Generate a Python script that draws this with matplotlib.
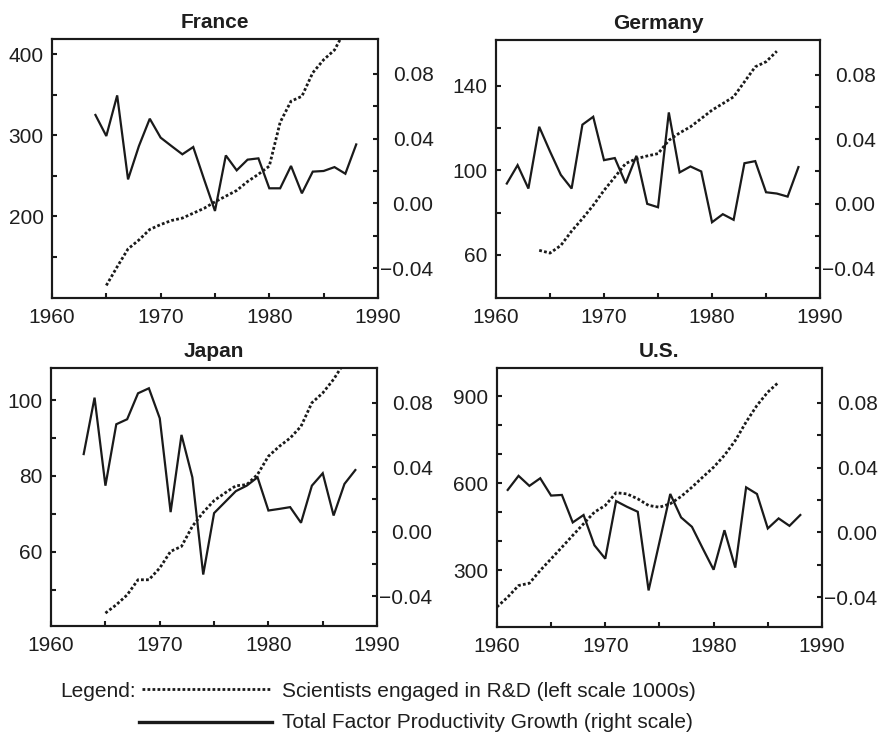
import matplotlib
matplotlib.use('Agg')
import numpy as np
import matplotlib.pyplot as plt
from matplotlib.lines import Line2D

plt.rcParams['font.family'] = ['Liberation Sans', 'DejaVu Sans']
plt.rcParams['font.size'] = 15

INK = '#1a1a1a'

# --- data ---
fr_tfp_years = np.arange(1964, 1989)
fr_tfp = [0.0546, 0.0416, 0.0667, 0.0148, 0.0354, 0.0523, 0.0406, 0.0354, 0.0303,
          0.0348, 0.0148, -0.0047, 0.0296, 0.0204, 0.027, 0.0278, 0.0093, 0.0093,
          0.0231, 0.0062, 0.0196, 0.02, 0.0224, 0.0183, 0.0364]
fr_sci_years = np.arange(1965, 1988)
fr_sci = [115, 138, 160, 171, 184, 190, 195, 198, 204, 210, 218, 225, 232, 243,
          252, 262, 316, 342, 348, 377, 393, 405, 430]

de_tfp_years = np.arange(1961, 1989)
de_tfp = [0.0125, 0.0239, 0.0094, 0.0477, 0.0324, 0.0179, 0.0094, 0.049, 0.0539,
          0.027, 0.0283, 0.0127, 0.0297, -0.0001, -0.0022, 0.0566, 0.0194, 0.0231,
          0.02, -0.0115, -0.0065, -0.01, 0.0251, 0.0264, 0.0071, 0.0063, 0.0044, 0.0227]
de_sci_years = np.arange(1964, 1987)
de_sci = [62.1, 60.8, 64.4, 71.2, 77.1, 83.4, 90.5, 96.8, 103.2, 105.5, 106.8, 107.9,
          114.2, 117.7, 120.6, 124.5, 128.5, 131.6, 134.8, 141.9, 149.0, 151.4, 156.4]

jp_tfp_years = np.arange(1963, 1989)
jp_tfp = [0.0481, 0.0831, 0.0285, 0.0666, 0.0697, 0.0858, 0.0889, 0.0703, 0.0121,
          0.06, 0.0337, -0.0266, 0.0115, 0.0183, 0.0251, 0.0285, 0.0337, 0.0131,
          0.0141, 0.0152, 0.0055, 0.0285, 0.0362, 0.01, 0.0296, 0.0382]
jp_sci_years = np.arange(1965, 1988)
jp_sci = [43.8, 46.0, 48.6, 52.6, 52.6, 55.7, 60.1, 61.4, 66.7, 70.4, 73.5, 75.5,
          77.4, 77.7, 80.4, 85.2, 87.8, 90.0, 93.1, 99.3, 101.9, 105.5, 110.0]

us_tfp_years = np.arange(1961, 1989)
us_tfp = [0.0262, 0.0349, 0.0287, 0.0334, 0.0227, 0.0231, 0.0061, 0.0107, -0.008,
          -0.0163, 0.0193, 0.0158, 0.0127, -0.0359, -0.0061, 0.0237, 0.0092, 0.0034,
          -0.01, -0.0231, 0.0013, -0.0218, 0.0278, 0.0237, 0.0024, 0.0086, 0.004, 0.0107]
us_sci_years = np.arange(1960, 1987)
us_sci = [174, 208, 248, 256, 300, 340, 380, 421, 461, 501, 524, 568, 564, 547,
          524, 518, 530, 555, 587, 622, 656, 697, 748, 812, 869, 915, 949]

panels = [
    # title, axes rect (fig fractions), left ylim, left major ticks, left minor ticks
    ('France', [0.059, 0.5934, 0.370, 0.3533], (99.5, 418.5), [200, 300, 400],
     [150, 250, 350], fr_sci_years, fr_sci, fr_tfp_years, fr_tfp),
    ('Germany', [0.563, 0.5934, 0.3678, 0.352], (39.5, 161.7), [60, 100, 140],
     [80, 120], de_sci_years, de_sci, de_tfp_years, de_tfp),
    ('Japan', [0.058, 0.146, 0.370, 0.352], (40.4, 108.5), [60, 80, 100],
     [50, 70, 90], jp_sci_years, jp_sci, jp_tfp_years, jp_tfp),
    ('U.S.', [0.564, 0.1446, 0.369, 0.3533], (105, 998), [300, 600, 900],
     [400, 500, 700, 800], us_sci_years, us_sci, us_tfp_years, us_tfp),
]

fig = plt.figure(figsize=(8.81, 7.33), dpi=100)

for title, rect, ylim, major, minor, sx, sy, tx, ty in panels:
    ax = fig.add_axes(rect)
    ax2 = ax.twinx()

    ax.plot(sx, sy, color=INK, lw=2.0, linestyle=(0, (1, 0.8)))
    ax2.plot(tx, ty, color=INK, lw=1.6, solid_joinstyle='miter')

    ax.set_xlim(1960, 1990)
    ax.set_xticks([1960, 1970, 1980, 1990])
    ax.set_xticks(np.arange(1965, 1990, 5), minor=True)
    ax.set_yticks(major)
    ax.set_yticks(minor, minor=True)
    ax.set_ylim(*ylim)

    ax2.set_yticks([-0.04, 0.0, 0.04, 0.08])
    ax2.set_yticklabels(['\u22120.04', '0.00', '0.04', '0.08'])
    ax2.set_yticks([-0.02, 0.02, 0.06], minor=True)
    ax2.set_ylim(-0.0585, 0.1015)

    for a in (ax, ax2):
        for s in a.spines.values():
            s.set_linewidth(1.5)
            s.set_color(INK)
        a.tick_params(which='both', direction='in', length=3.5, width=1.5,
                      color=INK, labelcolor='#1e1e1e', labelsize=15)
    ax.tick_params(axis='x', pad=7)
    ax.tick_params(axis='y', pad=6)
    ax2.tick_params(axis='y', pad=40)
    for lab in ax2.get_yticklabels():
        lab.set_horizontalalignment('right')

    ax.set_title(title, fontweight='bold', fontsize=15, pad=8, color='#1e1e1e')

# --- legend drawn below the panels ---
W, H = 881.0, 733.0
fig.text(60 / W, 1 - 697 / H, 'Legend:', fontsize=15, color='#1e1e1e', va='baseline')
fig.add_artist(Line2D([142 / W, 272 / W], [1 - 689 / H, 1 - 689 / H],
                      color=INK, lw=2.0, linestyle=(0, (1, 0.8))))
fig.add_artist(Line2D([139 / W, 272 / W], [1 - 722 / H, 1 - 722 / H],
                      color=INK, lw=2.4))
fig.text(282 / W, 1 - 697 / H, 'Scientists engaged in R&D (left scale 1000s)',
         fontsize=15, color='#1e1e1e', va='baseline')
fig.text(282 / W, 1 - 728 / H, 'Total Factor Productivity Growth (right scale)',
         fontsize=15, color='#1e1e1e', va='baseline')

fig.savefig('out.png', dpi=100)
